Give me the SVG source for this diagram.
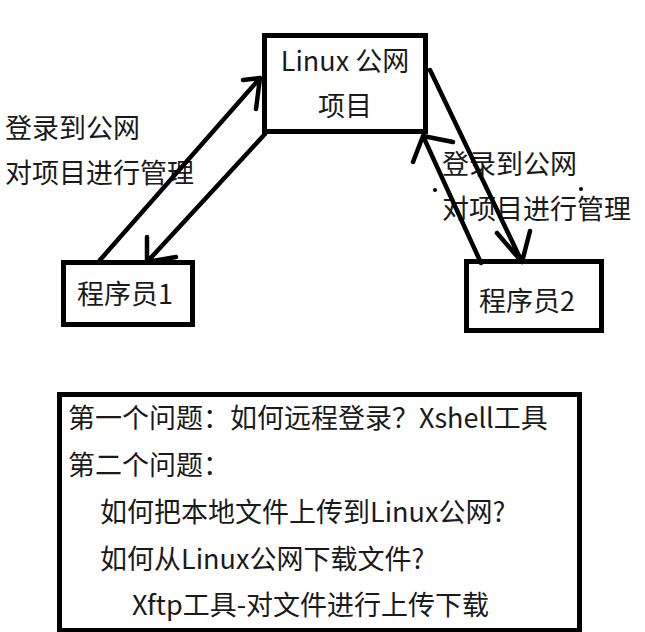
<svg xmlns="http://www.w3.org/2000/svg" width="645" height="632" viewBox="0 0 645 632">
<style>
.box{fill:#fff;stroke:#000;stroke-width:5}
.t{font-family:"Microsoft YaHei","Noto Sans CJK SC","Noto Sans",sans-serif;font-size:27px;fill:#1a1a1a}
.c{stroke:#000;stroke-width:4.5;fill:none;stroke-linecap:round;stroke-linejoin:round}
</style>
<rect width="645" height="632" fill="#fff"/>
<g id="linux">
<rect class="box" x="264.5" y="35.5" width="161" height="96"/>
<text class="t" x="345" y="71" text-anchor="middle">Linux 公网</text>
<text class="t" x="345" y="116" text-anchor="middle">项目</text>
</g>
<g id="p1">
<rect class="box" x="63.5" y="262.5" width="129" height="62"/>
<text class="t" x="77" y="304">程序员1</text>
</g>
<g id="p2">
<rect class="box" x="466.5" y="261.5" width="135" height="69"/>
<text class="t" x="479" y="311">程序员2</text>
</g>
<g id="labels">
<text class="t" x="5" y="138">登录到公网</text>
<text class="t" x="5" y="183">对项目进行管理</text>
<text class="t" x="442" y="174">登录到公网</text>
<text class="t" x="442" y="219">对项目进行管理</text>
</g>
<g id="connectors">
<path class="c" d="M100,260 L260,78 M243,80 L260,78 L256,109"/>
<path class="c" d="M265,134 L147,262 M147,237 L147,262 L176,257"/>
<path class="c" d="M430,70 L522,262 M497,233 L522,262 L530,231"/>
<path class="c" d="M481,263 L423,136 M413,162 L423,136 L453,142"/>
<circle cx="435" cy="190" r="2" fill="#000"/>
<circle cx="581" cy="189" r="2" fill="#000"/>
</g>
<g id="notes">
<rect class="box" x="59.5" y="394.5" width="520" height="236"/>
<text class="t" x="68" y="428">第一个问题：如何远程登录？Xshell工具</text>
<text class="t" x="68" y="475">第二个问题：</text>
<text class="t" x="100" y="522">如何把本地文件上传到Linux公网?</text>
<text class="t" x="100" y="569">如何从Linux公网下载文件?</text>
<text class="t" x="132" y="615">Xftp工具-对文件进行上传下载</text>
</g>
</svg>
